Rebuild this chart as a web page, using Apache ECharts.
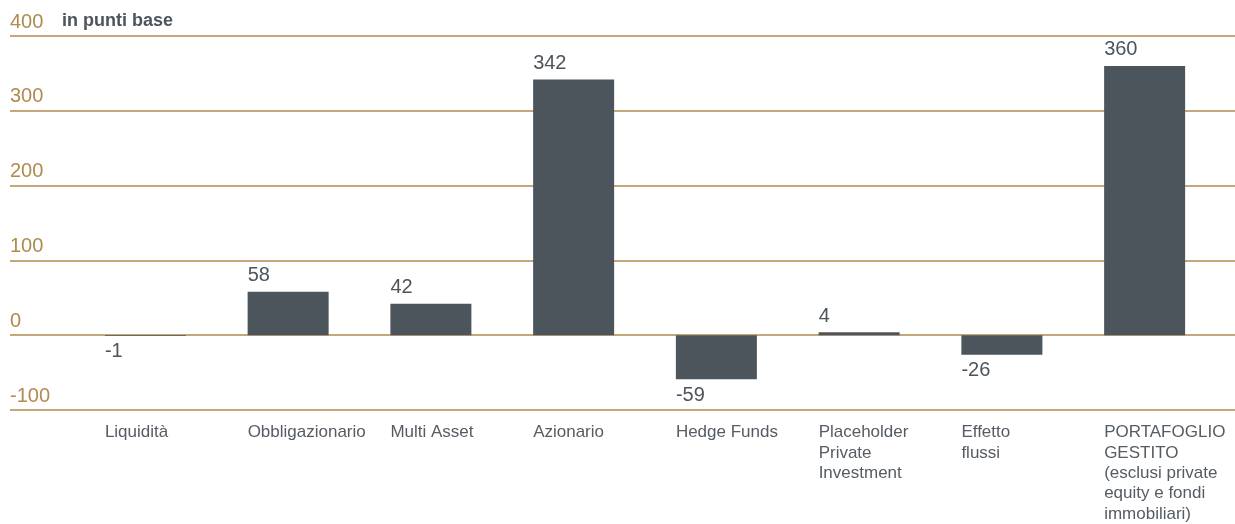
<!DOCTYPE html>
<html>
<head>
<meta charset="utf-8">
<script src="https://cdn.jsdelivr.net/npm/echarts@6/dist/echarts.min.js"></script>
<style>
  html, body { margin: 0; padding: 0; background: #fff; }
  #chart { width: 1235px; height: 524px; }
</style>
</head>
<body>
<div id="chart"></div>
<script>
// categorie e valori (punti base)
const categories = [
  'Liquidità',
  'Obbligazionario',
  'Multi Asset',
  'Azionario',
  'Hedge Funds',
  'Placeholder\nPrivate\nInvestment',
  'Effetto\nflussi',
  'PORTAFOGLIO\nGESTITO\n(esclusi private\nequity e fondi\nimmobiliari)'
]
const values = [-1, 58, 42, 342, -59, 4, -26, 360]
const yTicks = { min: -100, max: 400, step: 100 }

const GOLD = '#b08a4f'
const SLATE = '#4c545c'
const FONT = '"Liberation Sans", Arial, sans-serif'

const chart = echarts.init(document.getElementById('chart'))

const gridBox = { top: 36, bottom: 114 }

const option = {
  animation: false,
  textStyle: { fontFamily: FONT },
  grid: [
    // griglia a tutta larghezza per le linee orizzontali
    { left: 10, right: 0, ...gridBox },
    // griglia delle barre
    { left: 74, right: 19, ...gridBox },
    // griglia per le etichette di categoria allineate a sinistra
    { left: 33.5, right: 59.5, ...gridBox }
  ],
  graphic: [
    {
      type: 'text',
      left: 62,
      top: 12,
      style: {
        text: 'in punti base',
        fontFamily: FONT,
        fontWeight: 'bold',
        fontSize: 18,
        fill: SLATE
      }
    }
  ],
  xAxis: [
    { gridIndex: 0, type: 'value', show: false, min: 0, max: 1 },
    {
      gridIndex: 1, type: 'category', data: categories,
      axisLine: { show: false }, axisTick: { show: false }, axisLabel: { show: false }
    },
    {
      gridIndex: 2, type: 'category', data: categories,
      axisLine: { show: false }, axisTick: { show: false },
      axisLabel: {
        align: 'left',
        margin: 15,
        fontSize: 17,
        lineHeight: 20.3,
        color: '#555c63',
        fontFamily: FONT,
        interval: 0
      }
    }
  ],
  yAxis: [
    {
      gridIndex: 0, type: 'value',
      min: yTicks.min, max: yTicks.max, interval: yTicks.step,
      axisLine: { show: false }, axisTick: { show: false },
      splitLine: { lineStyle: { color: GOLD, width: 1.5 } },
      axisLabel: {
        inside: true,
        margin: 0,
        align: 'left',
        verticalAlign: 'bottom',
        padding: [0, 0, 4, 0],
        fontSize: 20,
        color: GOLD,
        fontFamily: FONT
      }
    },
    { gridIndex: 1, type: 'value', min: yTicks.min, max: yTicks.max, show: false },
    { gridIndex: 2, type: 'value', min: yTicks.min, max: yTicks.max, show: false }
  ],
  series: [
    {
      type: 'bar',
      xAxisIndex: 1,
      yAxisIndex: 1,
      barWidth: 81,
      itemStyle: { color: SLATE },
      data: values.map(v => ({
        value: v,
        label: {
          show: true,
          position: v >= 0 ? 'top' : 'bottom',
          distance: 6,
          align: 'left',
          offset: [-40.5, 0],
          fontSize: 20,
          color: SLATE,
          fontFamily: FONT
        }
      }))
    }
  ]
}

chart.setOption(option)
</script>
</body>
</html>
